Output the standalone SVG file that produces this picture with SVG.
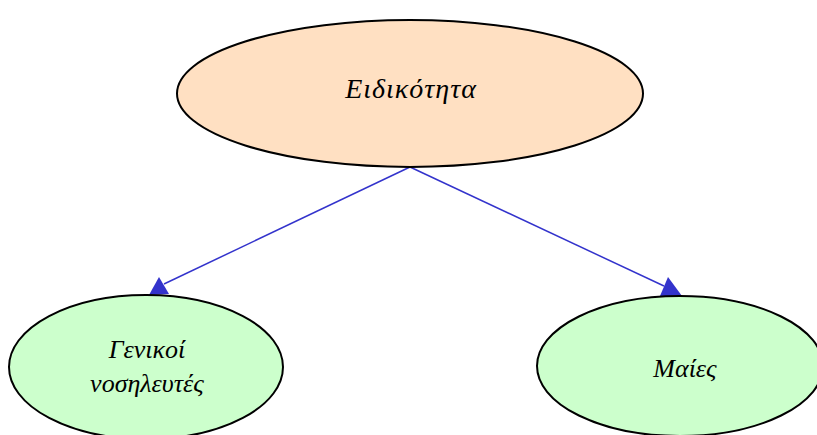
<svg xmlns="http://www.w3.org/2000/svg" width="817" height="435" viewBox="0 0 817 435">
<style>
.node ellipse{stroke:#000;stroke-width:2}
.top{fill:#FFE0C2}
.leaf{fill:#CCFFCC}
text{font-family:"Liberation Serif","DejaVu Serif",serif;font-style:italic;fill:#000;text-anchor:middle}
.edge{stroke:#3333CC;stroke-width:1.5;fill:none}
.head{fill:#3333CC}
</style>
<rect width="817" height="435" fill="#fff"/>
<g id="connectors">
<line class="edge" x1="410" y1="167" x2="164" y2="284"/>
<polygon class="head" points="159,277 149,295 169,294"/>
<line class="edge" x1="410" y1="167" x2="664" y2="286"/>
<polygon class="head" points="668,277 660,296 682,296"/>
</g>
<g id="node-eidikotita" class="node">
<ellipse class="top" cx="410" cy="93.5" rx="233" ry="73.5"/>
<text x="411" y="98" font-size="28" letter-spacing="1">Ειδικότητα</text>
</g>
<g id="node-genikoi" class="node">
<ellipse class="leaf" cx="146" cy="367" rx="137" ry="72"/>
<text x="147" y="358" font-size="26">Γενικοί</text>
<text x="147" y="392" font-size="26">νοσηλευτές</text>
</g>
<g id="node-maies" class="node">
<ellipse class="leaf" cx="680" cy="366" rx="143" ry="70"/>
<text x="685" y="377" font-size="26">Μαίες</text>
</g>
</svg>
